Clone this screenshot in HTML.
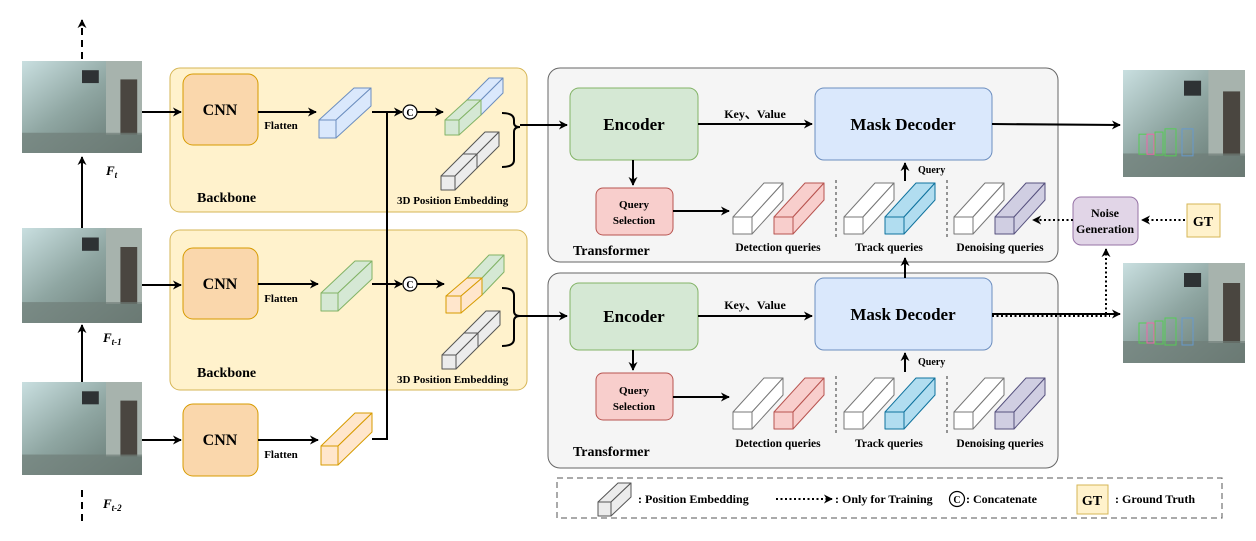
<!DOCTYPE html>
<html><head><meta charset="utf-8"><style>
html,body{margin:0;padding:0;background:#fff;}
svg text{font-family:"Liberation Serif",serif;font-weight:bold;fill:#000;}
</style></head><body>
<svg id="s" width="1256" height="536" viewBox="0 0 1256 536" xmlns="http://www.w3.org/2000/svg">
<defs>
<marker id="ah" viewBox="0 0 10 10" refX="9" refY="5" markerWidth="4.5" markerHeight="4.5" orient="auto"><path d="M0,0 L10,5 L0,10 L3,5 z" fill="#000"/></marker>
<linearGradient id="img" x1="0" y1="0" x2="1" y2="1"><stop offset="0" stop-color="#c9dfe0"/><stop offset="0.45" stop-color="#8fa6a2"/><stop offset="1" stop-color="#5f706a"/></linearGradient>
</defs>
<rect x="170" y="68" width="357" height="144" rx="10" fill="#fff2cc" stroke="#d6b656" stroke-width="1"/>
<rect x="170" y="230" width="357" height="160" rx="10" fill="#fff2cc" stroke="#d6b656" stroke-width="1"/>
<rect x="548" y="68" width="510" height="194" rx="12" fill="#f5f5f5" stroke="#666" stroke-width="1"/>
<rect x="548" y="273" width="510" height="195" rx="12" fill="#f5f5f5" stroke="#666" stroke-width="1"/>
<rect x="557" y="478" width="665" height="40" fill="none" stroke="#555" stroke-dasharray="6,4"/>
<g id="imgs"></g>
<g fill="#fad7ac" stroke="#d79b00">
<rect x="183" y="74" width="75" height="71" rx="10"/>
<rect x="183" y="248" width="75" height="71" rx="10"/>
<rect x="183" y="404" width="75" height="72" rx="10"/>
</g>
<text x="220" y="115" font-size="16" text-anchor="middle">CNN</text>
<text x="220" y="289" font-size="16" text-anchor="middle">CNN</text>
<text x="220" y="445" font-size="16" text-anchor="middle">CNN</text>
<text x="281" y="129" font-size="11" text-anchor="middle">Flatten</text>
<text x="281" y="302" font-size="11" text-anchor="middle">Flatten</text>
<text x="281" y="458" font-size="11" text-anchor="middle">Flatten</text>
<text x="197" y="202" font-size="14">Backbone</text>
<text x="197" y="377" font-size="14">Backbone</text>
<text x="397" y="204" font-size="11">3D Position Embedding</text>
<text x="397" y="383" font-size="11">3D Position Embedding</text>
<rect x="570" y="88" width="128" height="72" rx="9" fill="#d5e8d4" stroke="#82b366"/>
<rect x="570" y="283" width="128" height="67" rx="9" fill="#d5e8d4" stroke="#82b366"/>
<text x="634" y="130" font-size="17" text-anchor="middle">Encoder</text>
<text x="634" y="322" font-size="17" text-anchor="middle">Encoder</text>
<rect x="815" y="88" width="177" height="72" rx="9" fill="#dae8fc" stroke="#6c8ebf"/>
<rect x="815" y="278" width="177" height="72" rx="9" fill="#dae8fc" stroke="#6c8ebf"/>
<text x="903" y="130" font-size="17" text-anchor="middle">Mask Decoder</text>
<text x="903" y="320" font-size="17" text-anchor="middle">Mask Decoder</text>
<rect x="596" y="188" width="77" height="47" rx="7" fill="#f8cecc" stroke="#b85450"/>
<rect x="596" y="373" width="77" height="47" rx="7" fill="#f8cecc" stroke="#b85450"/>
<text x="634" y="208" font-size="11" text-anchor="middle">Query</text><text x="634" y="224" font-size="11" text-anchor="middle">Selection</text>
<text x="634" y="394" font-size="11" text-anchor="middle">Query</text><text x="634" y="410" font-size="11" text-anchor="middle">Selection</text>
<text x="573" y="255" font-size="14">Transformer</text>
<text x="573" y="456" font-size="14">Transformer</text>
<text x="755" y="118" font-size="12" text-anchor="middle">Key、Value</text>
<text x="755" y="309" font-size="12" text-anchor="middle">Key、Value</text>
<text x="918" y="173" font-size="10">Query</text>
<text x="918" y="365" font-size="10">Query</text>
<text x="778" y="251" font-size="11.5" text-anchor="middle">Detection queries</text>
<text x="889" y="251" font-size="11.5" text-anchor="middle">Track queries</text>
<text x="1000" y="251" font-size="11.5" text-anchor="middle">Denoising queries</text>
<text x="778" y="447" font-size="11.5" text-anchor="middle">Detection queries</text>
<text x="889" y="447" font-size="11.5" text-anchor="middle">Track queries</text>
<text x="1000" y="447" font-size="11.5" text-anchor="middle">Denoising queries</text>
<g stroke="#333" stroke-dasharray="3,3"><line x1="836" y1="180" x2="836" y2="240"/><line x1="947" y1="180" x2="947" y2="240"/><line x1="836" y1="376" x2="836" y2="436"/><line x1="947" y1="376" x2="947" y2="436"/></g>
<rect x="1073" y="197" width="65" height="48" rx="8" fill="#e1d5e7" stroke="#9673a6"/>
<text x="1105" y="217" font-size="12" text-anchor="middle">Noise</text>
<text x="1105" y="233" font-size="12" text-anchor="middle">Generation</text>
<rect x="1187" y="204" width="33" height="33" fill="#fff2cc" stroke="#d6b656"/>
<text x="1203" y="226" font-size="14" text-anchor="middle">GT</text>
<text x="106" y="175" font-size="13" font-style="italic">F<tspan font-size="9" dy="3">t</tspan></text>
<text x="103" y="342" font-size="13" font-style="italic">F<tspan font-size="9" dy="3">t-1</tspan></text>
<text x="103" y="508" font-size="13" font-style="italic">F<tspan font-size="9" dy="3">t-2</tspan></text>
<g id="cubes"></g>
<g stroke="#000" stroke-width="2" fill="none">
<line x1="82" y1="59" x2="82" y2="20" stroke-dasharray="7,5" marker-end="url(#ah)"/>
<line x1="82" y1="490" x2="82" y2="526" stroke-dasharray="7,5"/>
<line x1="82" y1="228" x2="82" y2="157" marker-end="url(#ah)"/>
<line x1="82" y1="382" x2="82" y2="325" marker-end="url(#ah)"/>
<line x1="142" y1="112" x2="181" y2="112" marker-end="url(#ah)"/>
<line x1="142" y1="285" x2="181" y2="285" marker-end="url(#ah)"/>
<line x1="142" y1="440" x2="181" y2="440" marker-end="url(#ah)"/>
<line x1="258" y1="112" x2="316" y2="112" marker-end="url(#ah)"/>
<line x1="258" y1="284" x2="318" y2="284" marker-end="url(#ah)"/>
<line x1="258" y1="440" x2="318" y2="440" marker-end="url(#ah)"/>
<line x1="372" y1="112" x2="402" y2="112" marker-end="url(#ah)"/>
<line x1="372" y1="284" x2="402" y2="284" marker-end="url(#ah)"/>
<polyline points="372,439 387,439 387,112"/>
<line x1="417" y1="112" x2="443" y2="112" marker-end="url(#ah)"/>
<line x1="417" y1="284" x2="444" y2="284" marker-end="url(#ah)"/>
<path d="M502,113 Q514,113 514,120 L514,123 Q514,127 520,127 Q514,127 514,132 L514,160 Q514,167 502,167"/>
<path d="M502,288 Q514,288 514,295 L514,311 Q514,316 520,316 Q514,316 514,321 L514,339 Q514,346 502,346"/>
<line x1="520" y1="125" x2="567" y2="125" marker-end="url(#ah)"/>
<line x1="520" y1="316" x2="567" y2="316" marker-end="url(#ah)"/>
<line x1="698" y1="124" x2="812" y2="124" marker-end="url(#ah)"/>
<line x1="698" y1="316" x2="812" y2="316" marker-end="url(#ah)"/>
<line x1="633" y1="160" x2="633" y2="185" marker-end="url(#ah)"/>
<line x1="633" y1="350" x2="633" y2="370" marker-end="url(#ah)"/>
<line x1="673" y1="211" x2="729" y2="211" marker-end="url(#ah)"/>
<line x1="673" y1="397" x2="729" y2="397" marker-end="url(#ah)"/>
<line x1="905" y1="181" x2="905" y2="163" marker-end="url(#ah)"/>
<line x1="905" y1="372" x2="905" y2="353" marker-end="url(#ah)"/>
<line x1="905" y1="278" x2="905" y2="258" marker-end="url(#ah)"/>
<line x1="992" y1="124" x2="1120" y2="125" marker-end="url(#ah)"/>
<line x1="992" y1="314" x2="1120" y2="314" marker-end="url(#ah)"/>
<g stroke-dasharray="2,2.5">
<line x1="992" y1="316" x2="1110" y2="316"/>
<line x1="1106" y1="314" x2="1106" y2="249" marker-end="url(#ah)"/>
<line x1="1185" y1="220" x2="1142" y2="220" marker-end="url(#ah)"/>
<line x1="1073" y1="220" x2="1033" y2="220" marker-end="url(#ah)"/>
<line x1="776" y1="499" x2="832" y2="499" marker-end="url(#ah)"/>
</g>
</g>
<g fill="#fff" stroke="#000" stroke-width="1.2">
<circle cx="410" cy="112" r="7"/><circle cx="410" cy="284" r="7"/><circle cx="957" cy="499" r="7.5"/>
</g>
<text x="410" y="116" font-size="10" text-anchor="middle">C</text>
<text x="410" y="288" font-size="10" text-anchor="middle">C</text>
<text x="957" y="503" font-size="10" text-anchor="middle">C</text>
<text x="638" y="503" font-size="12">: Position Embedding</text>
<text x="835" y="503" font-size="12">: Only for Training</text>
<text x="966" y="503" font-size="12">: Concatenate</text>
<rect x="1077" y="485" width="31" height="29" fill="#fff2cc" stroke="#d6b656"/>
<text x="1092" y="505" font-size="14" text-anchor="middle">GT</text>
<text x="1115" y="503" font-size="12">: Ground Truth</text>
</svg>
<script>
var C=document.getElementById('cubes'),h='';
function cub(x,y,w,H,dx,dy,f,s){
 h+='<g fill="'+f+'" stroke="'+s+'" stroke-width="1" stroke-linejoin="round">'+
 '<polygon points="'+x+','+y+' '+(x+dx)+','+(y-dy)+' '+(x+w+dx)+','+(y-dy)+' '+(x+w)+','+y+'"/>'+
 '<polygon points="'+(x+w)+','+y+' '+(x+w+dx)+','+(y-dy)+' '+(x+w+dx)+','+(y+H-dy)+' '+(x+w)+','+(y+H)+'"/>'+
 '<rect x="'+x+'" y="'+y+'" width="'+w+'" height="'+H+'"/></g>';
}
var B=['#dae8fc','#6c8ebf'],G=['#d5e8d4','#82b366'],O=['#ffe6cc','#d79b00'],W=['#ececec','#555'],Wh=['#fff','#777'];
cub(319,120,17,18,35,32,B[0],B[1]);
cub(321,293,17,18,34,32,G[0],G[1]);
cub(321,446,17,19,34,33,O[0],O[1]);
function cat(x,y,w,hh,d1,e1,d2,e2,a,b){cub(x+d1,y-e1,w,hh,d2,e2,b[0],b[1]);cub(x,y,w,hh,d1,e1,a[0],a[1]);}
cat(445,120,14,15,22,20,22,22,G,B);
cat(446,296,15,17,21,18,22,23,O,G);
cat(441,176,14,14,22,22,22,22,W,W);
cat(442,355,14,14,22,22,22,22,W,W);
function q(x,y,c){cub(x,y,19,17,31,34,Wh[0],Wh[1]);cub(x+41,y,19,17,31,34,c[0],c[1]);}
[0,195].forEach(function(o){
 q(733,217+o,['#f8cecc','#b85450']);
 q(844,217+o,['#b1ddf0','#10739e']);
 q(954,217+o,['#d0cee2','#56517e']);
});
cub(598,502,13,14,20,19,'#ececec','#555');
C.innerHTML=h;
var I=document.getElementById('imgs'),g='';
function im(x,y,w,H,boxes){
 g+='<rect x="'+x+'" y="'+y+'" width="'+w+'" height="'+H+'" fill="url(#img)"/>'+
 '<rect x="'+(x+w*0.7)+'" y="'+y+'" width="'+(w*0.3)+'" height="'+(H*0.8)+'" fill="#a7b3ad"/>'+
 '<rect x="'+(x+w*0.82)+'" y="'+(y+H*0.2)+'" width="'+(w*0.14)+'" height="'+(H*0.6)+'" fill="#4a4640"/>'+
 '<rect x="'+(x+w*0.5)+'" y="'+(y+H*0.1)+'" width="'+(w*0.14)+'" height="'+(H*0.14)+'" fill="#2e3234"/>'+
 '<rect x="'+x+'" y="'+(y+H*0.78)+'" width="'+w+'" height="'+(H*0.22)+'" fill="#6f7d78" opacity="0.7"/>';
 if(boxes){g+='<g fill="none" stroke-width="1"><rect x="'+(x+16)+'" y="'+(y+H*0.6)+'" width="8" height="20" stroke="#5c5"/><rect x="'+(x+24)+'" y="'+(y+H*0.6)+'" width="7" height="20" stroke="#e6a"/><rect x="'+(x+32)+'" y="'+(y+H*0.58)+'" width="8" height="23" stroke="#5c5"/><rect x="'+(x+42)+'" y="'+(y+H*0.55)+'" width="11" height="27" stroke="#5c5"/><rect x="'+(x+59)+'" y="'+(y+H*0.55)+'" width="11" height="27" stroke="#69c"/></g>';}
}
im(22,61,120,92);im(22,228,120,95);im(22,382,120,93);
im(1123,70,122,107,1);im(1123,263,122,100,1);
I.innerHTML=g;
</script>
</body></html>
